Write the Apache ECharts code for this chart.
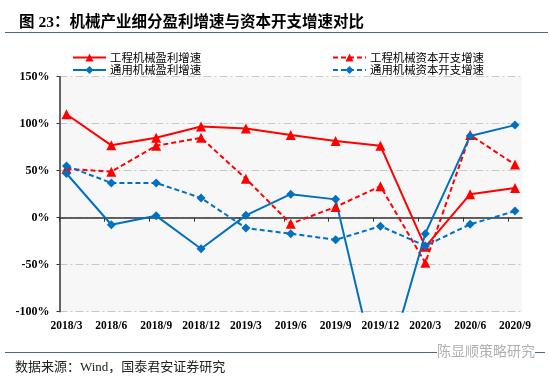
<!DOCTYPE html>
<html>
<head>
<meta charset="utf-8">
<script src="https://cdn.jsdelivr.net/npm/echarts@6/dist/echarts.min.js"></script>
<style>
html,body{margin:0;padding:0;background:#fff;}
#c{width:550px;height:379px;}
</style>
</head>
<body>
<div id="c"></div>
<script>
const categories = ['2018/3','2018/6','2018/9','2018/12','2019/3','2019/6','2019/9','2019/12','2020/3','2020/6','2020/9'];
const gcProfit = [110, 77, 85, 97, 95, 88, 81.5, 76.5, -31, 25, 31.5];
const gcCapex  = [52, 49, 76.5, 85, 41.5, -6.5, 11.5, 33.5, -48, 88, 56.5];
const tyProfit = [47, -7.5, 2, -33, 2.5, 25, 19.5, -183, -17, 87, 98.5];
const tyCapex  = [55, 37, 37, 21, -11, -17, -23.5, -9, -30, -7, 7];
const seriesNames = ['工程机械盈利增速','工程机械资本开支增速','通用机械盈利增速','通用机械资本开支增速'];

const RED = '#ff0000', BLUE = '#0070c0';
const SERIF = '"Liberation Serif","Times New Roman",serif';
const CJK = '"Noto Sans CJK SC",sans-serif';
const PAD = 0.156;

function pts(arr){ return arr.map((v,i)=>[i,v]); }

const chart = echarts.init(document.getElementById('c'), null, {renderer:'canvas'});
const legendText = {fontFamily: CJK, fontSize: 11.4, color:'#000', lineHeight: 12, padding:[0,0,0,-1]};
chart.setOption({
  animation:false,
  backgroundColor:'#fff',
  title:{
    text:'图 23：机械产业细分盈利增速与资本开支增速对比',
    left:14, top:10,
    textStyle:{fontFamily:'"Liberation Serif","Noto Sans CJK SC",serif', fontWeight:'bold', fontSize:15.5, color:'#000'}
  },
  legend:[
    {orient:'vertical', left:72, top:51.5, padding:0, itemWidth:33, itemHeight:10, itemGap:0.5,
     data:[seriesNames[0], seriesNames[2]], textStyle:legendText},
    {orient:'vertical', left:332, top:51.5, padding:0, itemWidth:33, itemHeight:10, itemGap:0.5,
     data:[seriesNames[1], seriesNames[3]], textStyle:legendText}
  ],
  grid:{left:59.5, right:28, top:76.7, bottom:67.3, show:true, backgroundColor:'#f7f7f7', borderWidth:0},
  xAxis:[
    {type:'value', min:-PAD, max:categories.length-1+PAD,
     axisLine:{show:true, onZero:true, lineStyle:{color:'#333', width:1.5}},
     axisTick:{show:true, length:4, customValues: categories.map((c,i)=>i-PAD), lineStyle:{color:'#333', width:1}},
     axisLabel:{show:false}, splitLine:{show:false}},
    {type:'value', position:'bottom', min:-PAD, max:categories.length-1+PAD,
     axisLine:{show:false, onZero:false}, axisTick:{show:false}, splitLine:{show:false},
     axisLabel:{customValues: categories.map((c,i)=>i), formatter:v=>categories[Math.round(v)],
       fontFamily:SERIF, fontWeight:'bold', fontSize:11.5, color:'#000', margin:8}}
  ],
  yAxis:{type:'value', min:-100, max:150, interval:50,
    axisLine:{show:true, onZero:false, lineStyle:{color:'#333', width:1.5}},
    axisTick:{show:true, length:3, lineStyle:{color:'#333'}},
    axisLabel:{formatter:'{value}%', fontFamily:SERIF, fontWeight:'bold', fontSize:12, color:'#000', margin:10},
    splitLine:{show:true, lineStyle:{color:'#c8c8c8', width:1, type:[8,3,2,3]}}},
  series:[
    {name:seriesNames[0], type:'line', data:pts(gcProfit), symbol:'triangle', symbolSize:10,
     lineStyle:{color:RED, width:2}, itemStyle:{color:RED}, clip:true},
    {name:seriesNames[1], type:'line', data:pts(gcCapex), symbol:'triangle', symbolSize:10,
     lineStyle:{color:RED, width:2, type:[5,3]}, itemStyle:{color:RED}, clip:true},
    {name:seriesNames[2], type:'line', data:pts(tyProfit), symbol:'diamond', symbolSize:9,
     lineStyle:{color:BLUE, width:2}, itemStyle:{color:BLUE}, clip:true},
    {name:seriesNames[3], type:'line', data:pts(tyCapex), symbol:'diamond', symbolSize:9,
     lineStyle:{color:BLUE, width:2, type:[5,3]}, itemStyle:{color:BLUE}, clip:true}
  ],
  graphic:[
    {type:'line', shape:{x1:5,y1:32.5,x2:548,y2:32.5}, style:{stroke:'#4a6785', lineWidth:1.2}, silent:true},
    {type:'line', shape:{x1:5,y1:352.5,x2:545,y2:352.5}, style:{stroke:'#4a6785', lineWidth:1.2}, silent:true},
    {type:'text', left:437, top:344, style:{text:'陈显顺策略研究', fill:'#b0b0b0', font:'14px "Noto Sans CJK SC"', backgroundColor:'#fff'}, silent:true},
    {type:'text', left:15, top:361, style:{text:'数据来源：Wind，国泰君安证券研究', fill:'#222', font:'13px "Liberation Serif","Noto Sans CJK SC"'}, silent:true}
  ]
});
</script>
</body>
</html>
